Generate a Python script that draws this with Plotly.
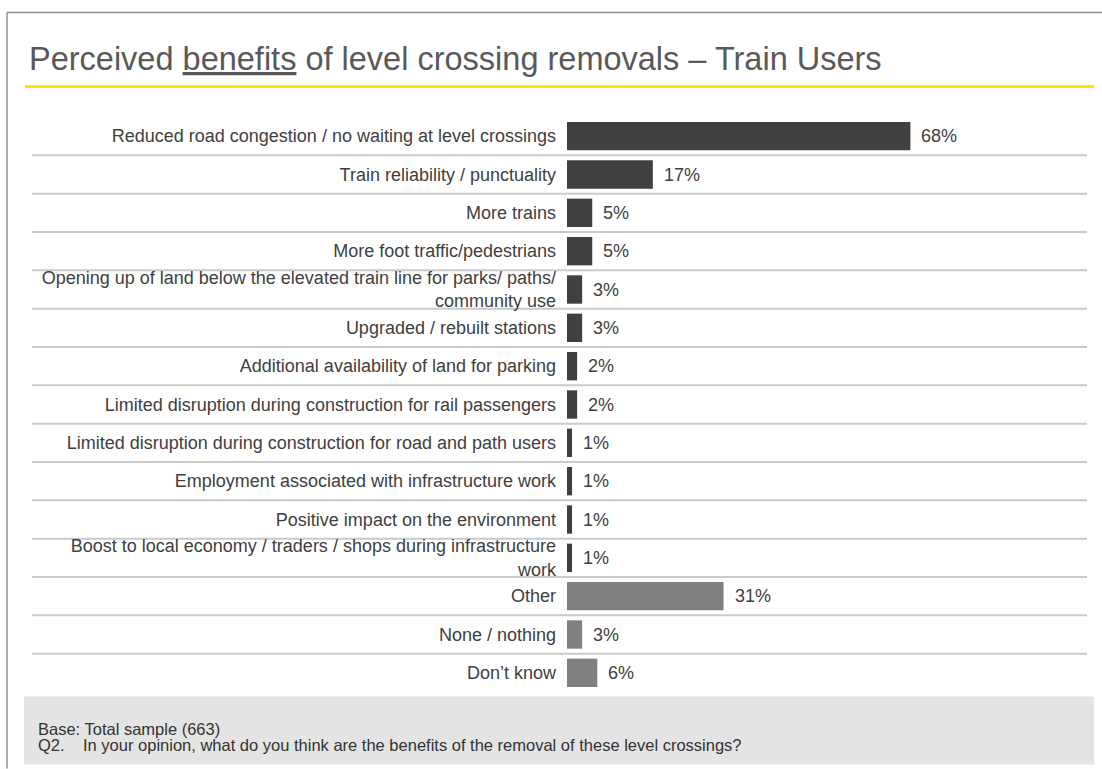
import plotly.graph_objects as go

# Survey responses, listed top to bottom
categories = [
    "Reduced road congestion / no waiting at level crossings",
    "Train reliability / punctuality",
    "More trains",
    "More foot traffic/pedestrians",
    "Opening up of land below the elevated train line for parks/ paths/<br>community use",
    "Upgraded / rebuilt stations",
    "Additional availability of land for parking",
    "Limited disruption during construction for rail passengers",
    "Limited disruption during construction for road and path users",
    "Employment associated with infrastructure work",
    "Positive impact on the environment",
    "Boost to local economy / traders / shops during infrastructure<br>work",
    "Other",
    "None / nothing",
    "Don\u2019t know",
]
percent = [68, 17, 5, 5, 3, 3, 2, 2, 1, 1, 1, 1, 31, 3, 6]
group = ["benefit"] * 12 + ["other"] * 3

title_text = "Perceived <u>benefits</u> of level crossing removals \u2013 Train Users"
base_text = "Base: Total sample (663)"
question_no = "Q2."
question_text = "In your opinion, what do you think are the benefits of the removal of these level crossings?"

# Page geometry (pixels)
W, H = 1102, 769
PLOT_L, PLOT_R = 567, 1087
PLOT_T, PLOT_B = 116.6, 692.5
PX_PER_PCT = 5.05

DARK = "#404040"
GREY = "#808080"
FONT = "Liberation Sans, Arial, sans-serif"
LABEL_SIZE = 18
NOTE_SIZE = 16.5


def px_x(p):
    return (p - PLOT_L) / (PLOT_R - PLOT_L)


def px_y(p):
    return (PLOT_B - p) / (PLOT_B - PLOT_T)


colors = [DARK if g == "benefit" else GREY for g in group]

fig = go.Figure(
    go.Bar(
        x=percent,
        y=categories,
        orientation="h",
        marker=dict(color=colors, line=dict(width=0)),
        hoverinfo="skip",
    )
)

shapes = []
# Light row separators
for i in range(len(categories) - 1):
    shapes.append(dict(
        type="line", xref="paper", yref="y",
        x0=px_x(32), x1=px_x(1087), y0=i + 0.5, y1=i + 0.5,
        line=dict(color="#cacaca", width=2), layer="below",
    ))
# Yellow rule under the heading
shapes.append(dict(
    type="line", xref="paper", yref="paper",
    x0=px_x(25), x1=px_x(1094), y0=px_y(86), y1=px_y(86),
    line=dict(color="#FFE600", width=3),
))
# Footer panel
shapes.append(dict(
    type="rect", xref="paper", yref="paper",
    x0=px_x(24), x1=px_x(1094), y0=px_y(765), y1=px_y(697),
    fillcolor="#e4e4e4", line=dict(width=0), layer="below",
))
# Slide frame (top and left edges)
shapes.append(dict(
    type="line", xref="paper", yref="paper",
    x0=px_x(7), x1=px_x(1102), y0=px_y(12), y1=px_y(12),
    line=dict(color="#8f8f8f", width=1.5),
))
shapes.append(dict(
    type="line", xref="paper", yref="paper",
    x0=px_x(7), x1=px_x(7), y0=px_y(12), y1=px_y(769),
    line=dict(color="#8f8f8f", width=1.5),
))

annotations = []
# Value labels beside each bar
for cat, v in zip(categories, percent):
    annotations.append(dict(
        x=v, y=cat, xref="x", yref="y", text=f"{v}%",
        showarrow=False, xanchor="left", yanchor="middle", xshift=9,
        font=dict(family=FONT, size=LABEL_SIZE, color=DARK),
    ))
annotations.append(dict(
    x=px_x(27), y=px_y(58.5), xref="paper", yref="paper", text=title_text,
    showarrow=False, xanchor="left", yanchor="middle",
    font=dict(family=FONT, size=32.5, color="#595959"),
))
annotations.append(dict(
    x=px_x(36), y=px_y(730), xref="paper", yref="paper", text=base_text,
    showarrow=False, xanchor="left", yanchor="middle",
    font=dict(family=FONT, size=NOTE_SIZE, color="#333333"),
))
annotations.append(dict(
    x=px_x(36), y=px_y(746), xref="paper", yref="paper", text=question_no,
    showarrow=False, xanchor="left", yanchor="middle",
    font=dict(family=FONT, size=NOTE_SIZE, color="#333333"),
))
annotations.append(dict(
    x=px_x(81), y=px_y(746), xref="paper", yref="paper", text=question_text,
    showarrow=False, xanchor="left", yanchor="middle",
    font=dict(family=FONT, size=NOTE_SIZE, color="#333333"),
))

fig.update_layout(
    width=W, height=H,
    margin=dict(l=PLOT_L, r=W - PLOT_R, t=PLOT_T, b=H - PLOT_B, autoexpand=False),
    paper_bgcolor="white", plot_bgcolor="white",
    showlegend=False,
    bargap=0.26,
    xaxis=dict(range=[0, (PLOT_R - PLOT_L) / PX_PER_PCT], visible=False,
               fixedrange=True),
    yaxis=dict(type="category", range=[len(categories) - 0.5, -0.5],
               showgrid=False, zeroline=False, showline=False, ticks="",
               ticklabelstandoff=10,
               tickfont=dict(family=FONT, size=LABEL_SIZE, color=DARK),
               fixedrange=True),
    shapes=shapes,
    annotations=annotations,
)

fig.write_html("out.html", config={"displayModeBar": False})
